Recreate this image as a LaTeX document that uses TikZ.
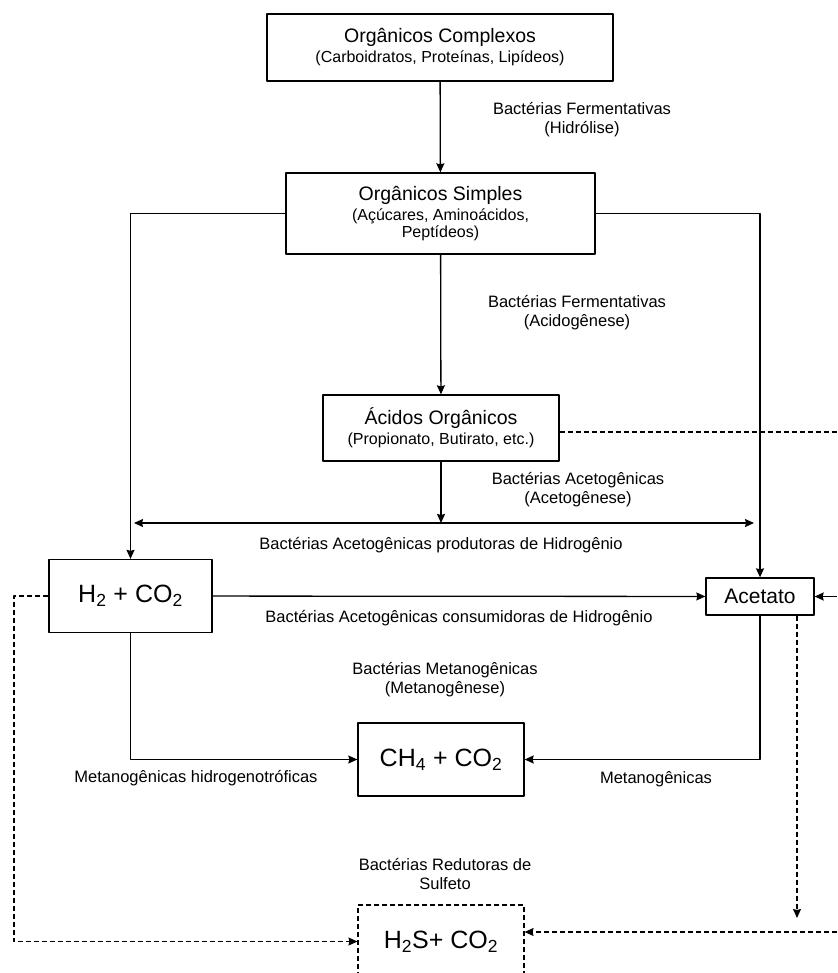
\documentclass[tikz,border=0pt]{standalone}
\usepackage{fontspec}
\setmainfont{Liberation Sans}
\usetikzlibrary{arrows.meta}
\tikzset{
  box/.style={draw, line width=1.3pt, align=center, inner sep=0pt},
  dbox/.style={box, line width=1.1pt, dash pattern=on 5pt off 3pt},
  lbl/.style={align=center, font=\fontsize{16.5}{19}\selectfont},
  flow/.style={line width=1.3pt, ->},
  dflow/.style={line width=1.1pt, dash pattern=on 5pt off 3pt, ->},
}
\newcommand{\titulo}[1]{{\fontsize{19.5}{24}\selectfont #1}}
\newcommand{\formula}[1]{{\fontsize{25}{28}\selectfont #1}}
\begin{document}
\begin{tikzpicture}[x=1pt, y=-1pt, >={Stealth[length=9pt, width=8pt, inset=1pt]}, line join=round, font=\fontsize{16}{17}\selectfont]
  \path[use as bounding box, clip] (0,0) rectangle (837,973);
  \fill[white] (0,0) rectangle (837,973);
  % caixas
  \node[box, minimum width=346pt, minimum height=67pt] (complexos) at (440,47.5) {\titulo{Orgânicos Complexos}\\[3pt](Carboidratos, Proteínas, Lipídeos)};
  \node[box, minimum width=309pt, minimum height=81pt] (simples) at (440.5,213.5) {\titulo{Orgânicos Simples}\\[3pt](Açúcares, Aminoácidos,\\Peptídeos)};
  \node[box, minimum width=236pt, minimum height=66pt] (acidos) at (441,428) {\titulo{Ácidos Orgânicos}\\[3pt](Propionato, Butirato, etc.)};
  \node[box, minimum width=163pt, minimum height=73pt] (h2) at (130.5,596) {\formula{H\textsubscript{2} + CO\textsubscript{2}}};
  \node[box, minimum width=108pt, minimum height=37pt] (acetato) at (760,596.5) {\fontsize{21}{24}\selectfont Acetato};
  \node[box, minimum width=166pt, minimum height=73pt] (ch4) at (441,759.5) {\formula{CH\textsubscript{4} + CO\textsubscript{2}}};
  \node[dbox, minimum width=166pt, minimum height=73pt] (h2s) at (441,941.5) {\formula{H\textsubscript{2}S+ CO\textsubscript{2}}};
  % rotulos
  \node[lbl] (hidrolise) at (582,120) {Bactérias Fermentativas\\(Hidrólise)};
  \node[lbl] (acidogenese) at (577,313) {Bactérias Fermentativas\\(Acidogênese)};
  \node[lbl] (acetogenese) at (578,490) {Bactérias Acetogênicas\\(Acetogênese)};
  \node[lbl] (produtoras) at (441,545) {Bactérias Acetogênicas produtoras de Hidrogênio};
  \node[lbl] (consumidoras) at (459,618) {Bactérias Acetogênicas consumidoras de Hidrogênio};
  \node[lbl] (metanogenese) at (445,680) {Bactérias Metanogênicas\\(Metanogênese)};
  \node[lbl] (hidrogenotroficas) at (196,778) {Metanogênicas hidrogenotróficas};
  \node[lbl] (metanogenicas) at (656,779) {Metanogênicas};
  \node[lbl] (redutoras) at (445,874) {Bactérias Redutoras de\\Sulfeto};
  % pontos livres
  \coordinate (jL) at (134,523);
  \coordinate (jR) at (754,523);
  \coordinate (eA) at (837,432);
  \coordinate (eB) at (837,596.5);
  \coordinate (eC) at (837,932);
  \coordinate (cL) at (14,596);
  \coordinate (cD) at (797,918);
  % ligacoes
  \draw[flow] (complexos) -- (simples);
  \draw[flow] (simples) -- (acidos);
  \draw[flow] (simples.west) -| (h2.north);
  \draw[flow] (simples.east) -| (acetato.north);
  \draw[flow] (acidos.south) -- (acidos.south |- jL);
  \draw[flow, <->] (jL) -- (jR);
  \draw[flow] (h2) -- (acetato);
  \draw[flow] (eB) -- (acetato.east);
  \draw[flow] (h2.south) |- (ch4.west);
  \draw[flow] (acetato.south) |- (ch4.east);
  \draw[line width=1.1pt, dash pattern=on 5pt off 3pt] (acidos.east |- eA) -- (eA);
  \draw[dflow] (h2.west) -- (cL) |- (h2s.west);
  \draw[dflow] (cD |- acetato.south) -- (cD);
  \draw[dflow] (eC) -- (eC -| h2s.east);
\end{tikzpicture}
\end{document}
